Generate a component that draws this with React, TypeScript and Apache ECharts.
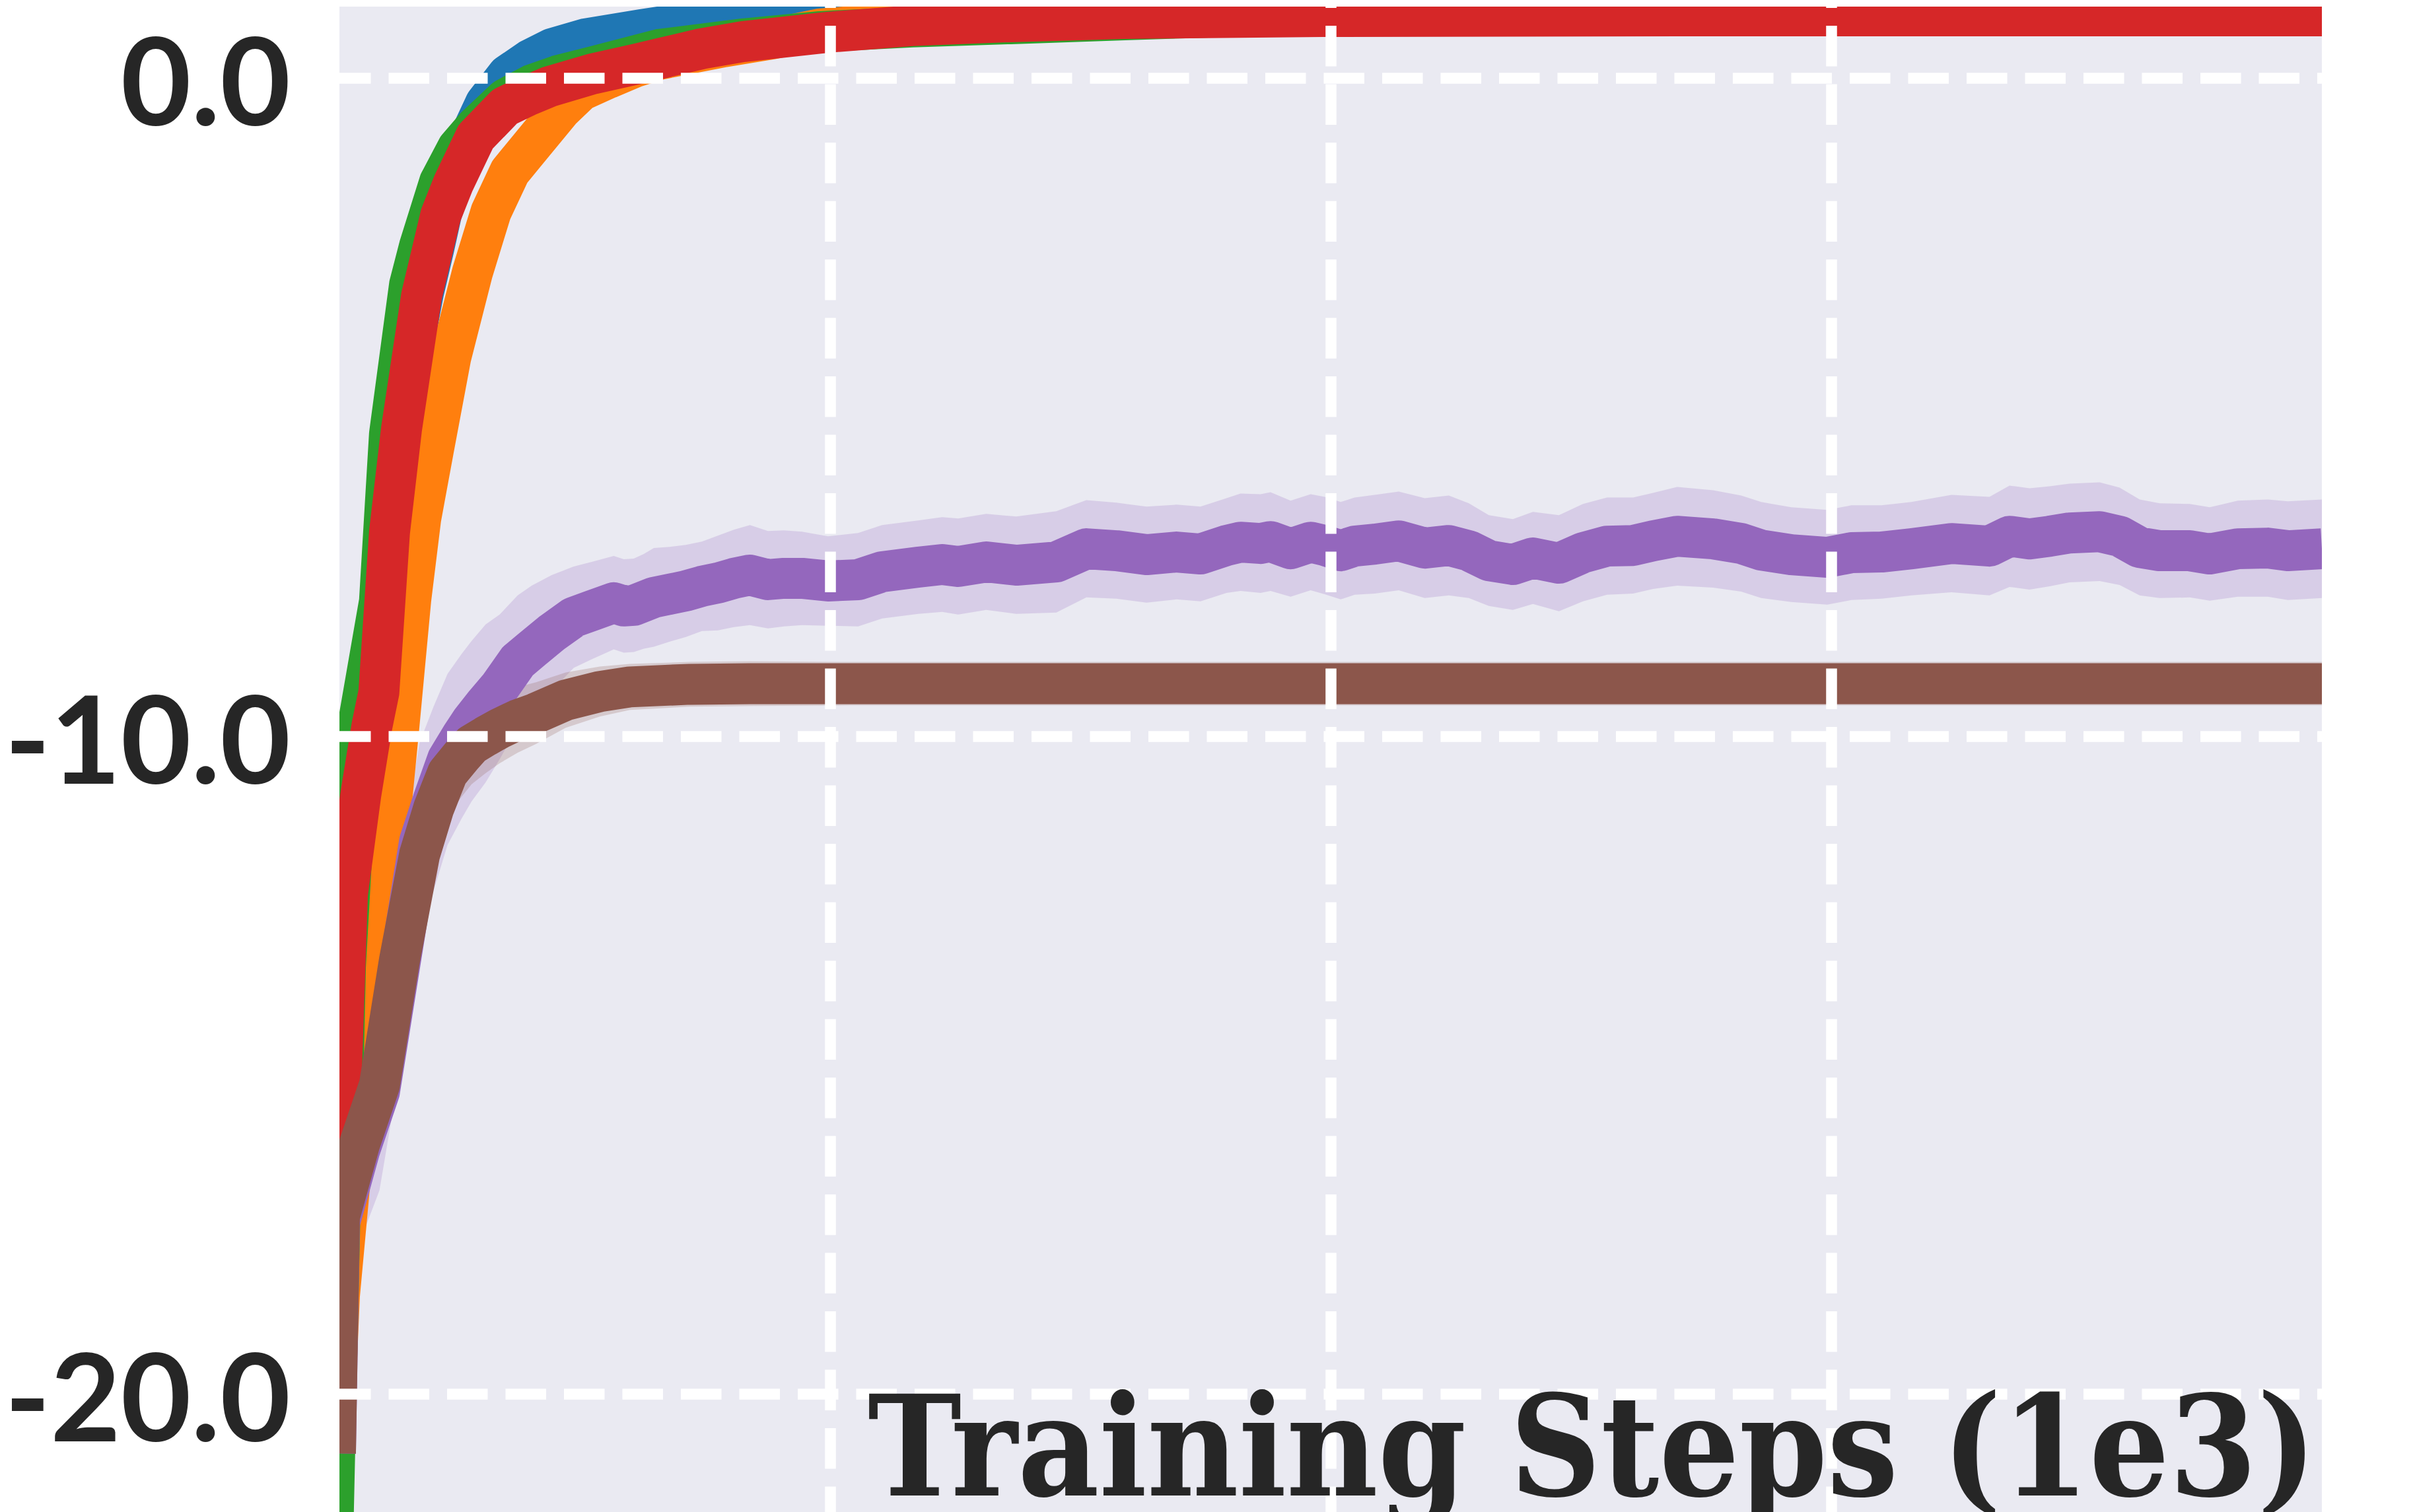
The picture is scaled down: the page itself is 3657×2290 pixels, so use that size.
import React, { useEffect, useRef } from "react";
import * as echarts from "echarts";

// ---------- axis settings ----------
const xAxisMin = 5;
const xAxisMax = 995;
const yAxisMin = -21.79;
const yAxisMax = 1.09;
const yTickValues = [-20, -10, 0];
const xGridValues = [250, 500, 750];
const xAxisTitle = "Training Steps (1e3)";

// ---------- series data (mean curves and std bands) ----------
const blueX = [0, 5, 9, 15, 21, 25, 30, 36, 41, 47, 52, 56, 63, 70, 78, 89, 100, 111, 128, 156, 173, 200, 250, 300, 400, 600, 995];
const blueY = [-22, -17.5, -12.8, -11.2, -10.0, -9.4, -7.0, -5.3, -4.2, -3.25, -2.6, -2.05, -1.45, -0.9, -0.38, 0.05, 0.28, 0.45, 0.6, 0.74, 0.82, 0.92, 1.0, 1.07, 1.15, 1.2, 1.22];
const blueStd = [0.3, 0.3, 0.3, 0.3, 0.3, 0.3, 0.3, 0.3, 0.3, 0.28, 0.26, 0.25, 0.24, 0.22, 0.2, 0.2, 0.2, 0.2, 0.2, 0.2, 0.2, 0.2, 0.2, 0.2, 0.2, 0.2, 0.2];

const orangeX = [0, 5, 15, 25.4, 30.7, 34.7, 40.6, 45.6, 51.9, 60.6, 71.4, 80.7, 90.1, 101.4, 115.5, 125.4, 139.2, 152.4, 165, 197, 221, 245, 300, 400, 600, 995];
const orangeY = [-22, -18.5, -15.2, -11.7, -11.1, -9.85, -7.93, -6.69, -5.65, -4.24, -2.95, -2.03, -1.42, -1.0, -0.48, -0.19, 0.0, 0.17, 0.29, 0.48, 0.6, 0.75, 0.88, 0.98, 1.02, 1.03];
const orangeStd = [0.5, 0.5, 0.5, 0.5, 0.5, 0.5, 0.48, 0.46, 0.44, 0.42, 0.4, 0.38, 0.35, 0.3, 0.26, 0.22, 0.2, 0.18, 0.16, 0.15, 0.15, 0.15, 0.15, 0.15, 0.15, 0.15];

const greenX = [0, 8, 15, 25, 30, 40, 45, 55, 64, 73, 88, 101, 114, 132, 165, 207, 245, 291, 340, 397, 450, 600, 995];
const greenY = [-24.5, -13.5, -9.7, -7.95, -5.41, -3.14, -2.55, -1.58, -1.06, -0.74, -0.31, -0.1, 0.04, 0.18, 0.44, 0.6, 0.71, 0.78, 0.83, 0.89, 0.94, 0.97, 0.98];
const greenStd = [0.5, 0.5, 0.5, 0.5, 0.48, 0.45, 0.45, 0.42, 0.4, 0.38, 0.35, 0.32, 0.3, 0.28, 0.25, 0.22, 0.2, 0.2, 0.2, 0.2, 0.2, 0.2, 0.2];

const redX = [0, 5, 9, 15.6, 21.2, 24.7, 30, 36, 46, 55.6, 62, 73, 87.6, 98.6, 109.5, 131.7, 153.8, 165, 186, 207, 249, 291, 340, 397, 496, 700, 995];
const redY = [-20, -16.0, -12.4, -10.9, -9.85, -9.33, -6.9, -5.33, -3.31, -2.08, -1.59, -0.89, -0.43, -0.27, -0.13, 0.07, 0.22, 0.3, 0.45, 0.56, 0.7, 0.8, 0.86, 0.91, 0.94, 0.95, 0.95];
const redStd = [0.25, 0.25, 0.25, 0.25, 0.25, 0.25, 0.25, 0.25, 0.25, 0.25, 0.25, 0.22, 0.2, 0.2, 0.2, 0.2, 0.2, 0.2, 0.2, 0.2, 0.2, 0.2, 0.2, 0.2, 0.2, 0.2, 0.2];

const purpleX = [3, 5, 15, 25, 35, 45, 52, 59, 66, 71, 78, 85, 94, 101, 111, 122, 131, 142, 147, 152, 157, 162, 170, 178, 186, 194, 202, 210, 219, 227, 236, 249, 264,
  276, 294, 306, 314, 328, 343, 363, 378, 393, 408, 423, 435, 448, 455, 465, 470, 480, 490, 497, 505, 512, 522, 534, 547, 559, 569, 579, 591, 601, 614,
  626, 638, 651, 661, 673, 691, 705, 715, 730, 748, 760, 775, 790, 810, 829, 839, 849, 859, 869, 884, 894, 904, 914, 929, 939, 953, 968, 978, 995];
const purpleY = [-20.9, -17.4, -16.3, -15.4, -13.5, -11.6, -10.95, -10.35, -10.0, -9.77, -9.5, -9.25, -8.86, -8.68, -8.43, -8.19, -8.09, -7.97, -8.02, -8.01, -7.95, -7.89, -7.84, -7.79, -7.72, -7.67, -7.6, -7.55, -7.62, -7.6, -7.6, -7.64, -7.62,
  -7.5, -7.43, -7.39, -7.42, -7.35, -7.4, -7.35, -7.15, -7.18, -7.24, -7.2, -7.23, -7.1, -7.05, -7.07, -7.04, -7.15, -7.05, -7.1, -7.18, -7.11, -7.08, -7.03, -7.14, -7.1, -7.18, -7.33, -7.39, -7.29, -7.37,
  -7.21, -7.11, -7.1, -7.03, -6.96, -7.0, -7.07, -7.17, -7.24, -7.28, -7.21, -7.2, -7.15, -7.07, -7.11, -6.96, -7.0, -6.96, -6.91, -6.89, -6.96, -7.13, -7.18, -7.18, -7.23, -7.15, -7.14, -7.18, -7.15];
const purpleStd = [1.0, 1.2, 1.4, 1.5, 1.6, 1.5, 1.4, 1.3, 1.25, 1.22, 1.2, 1.1, 1.0, 0.97, 0.88, 0.77, 0.74, 0.71, 0.71, 0.71, 0.72, 0.75, 0.72, 0.7, 0.68, 0.72, 0.74, 0.76, 0.74, 0.73, 0.71, 0.68, 0.71,
  0.71, 0.71, 0.72, 0.73, 0.73, 0.74, 0.77, 0.74, 0.73, 0.73, 0.72, 0.72, 0.72, 0.74, 0.75, 0.75, 0.73, 0.73, 0.74, 0.74, 0.74, 0.75, 0.75, 0.76, 0.76, 0.72, 0.69, 0.69, 0.7, 0.73,
  0.74, 0.74, 0.73, 0.73, 0.75, 0.74, 0.73, 0.73, 0.72, 0.72, 0.72, 0.71, 0.71, 0.74, 0.75, 0.77, 0.77, 0.76, 0.75, 0.75, 0.74, 0.73, 0.72, 0.71, 0.71, 0.73, 0.74, 0.75, 0.75];

const brownX = [3, 5, 15, 25, 35, 45, 52, 59, 66, 71, 78, 85, 94, 103, 118, 135, 150, 180, 210, 260, 400, 600, 800, 995];
const brownY = [-20.9, -17.3, -16.2, -15.3, -13.4, -11.8, -11.1, -10.56, -10.3, -10.13, -10.0, -9.88, -9.75, -9.65, -9.45, -9.32, -9.25, -9.21, -9.2, -9.2, -9.2, -9.2, -9.2, -9.2];
const brownStd = [1.2, 1.2, 1.1, 1.0, 0.9, 0.8, 0.72, 0.66, 0.62, 0.6, 0.56, 0.53, 0.5, 0.47, 0.42, 0.38, 0.35, 0.34, 0.34, 0.33, 0.33, 0.33, 0.33, 0.33];

type Curve = { name: string; color: string; x: number[]; y: number[]; std: number[] };

function rgba(hex: string, a: number) {
  const n = parseInt(hex.slice(1), 16);
  return `rgba(${(n >> 16) & 255},${(n >> 8) & 255},${n & 255},${a})`;
}

export default function App() {
  const ref = useRef<HTMLDivElement>(null);

  useEffect(() => {
    if (!ref.current) return;
    const chart = echarts.init(ref.current, null, { renderer: "svg" });

    const curves: Curve[] = [
      { name: "blue", color: "#1f77b4", x: blueX, y: blueY, std: blueStd },
      { name: "orange", color: "#ff7f0e", x: orangeX, y: orangeY, std: orangeStd },
      { name: "green", color: "#2ca02c", x: greenX, y: greenY, std: greenStd },
      { name: "red", color: "#d62728", x: redX, y: redY, std: redStd },
      { name: "purple", color: "#9467bd", x: purpleX, y: purpleY, std: purpleStd },
      { name: "brown", color: "#8c564b", x: brownX, y: brownY, std: brownStd },
    ];

    const series: any[] = [];
    curves.forEach((c) => {
      series.push({
        type: "custom",
        name: c.name + "-band",
        coordinateSystem: "cartesian2d",
        clip: true,
        silent: true,
        data: [[c.x[0], c.y[0]]],
        renderItem: (_params: any, api: any) => {
          const up = c.x.map((x, i) => api.coord([x, c.y[i] + c.std[i]]));
          const lo = c.x.map((x, i) => api.coord([x, c.y[i] - c.std[i]])).reverse();
          return {
            type: "polygon",
            shape: { points: up.concat(lo) },
            style: { fill: rgba(c.color, 0.22), stroke: "none" },
          };
        },
      });
      series.push({
        type: "line",
        name: c.name,
        data: c.x.map((x, i) => [x, c.y[i]]),
        showSymbol: false,
        symbol: "none",
        clip: true,
        silent: true,
        itemStyle: { color: c.color },
        lineStyle: { color: c.color, width: 62, join: "round", cap: "butt" },
      });
    });

    series[series.length - 1].markLine = {
      silent: true,
      symbol: ["none", "none"],
      label: { show: false },
      lineStyle: { color: "#ffffff", width: 16.5, type: [61.5, 27], dashOffset: 13.6, opacity: 1 },
      emphasis: { disabled: true },
      data: [
        ...xGridValues.map((v) => ({ xAxis: v, lineStyle: { color: "#ffffff", width: 16.5, type: [61.5, 27], dashOffset: 22.7 } })),
        ...yTickValues.map((v) => ({ yAxis: v })),
      ],
    };

    chart.setOption({
      animation: false,
      backgroundColor: "#ffffff",
      grid: {
        left: 514,
        right: 141,
        top: 10,
        bottom: 0,
        show: true,
        backgroundColor: "#EAEAF2",
        borderWidth: 0,
        containLabel: false,
        outerBoundsMode: "none",
      },
      xAxis: {
        type: "value",
        min: xAxisMin,
        max: xAxisMax,
        axisLine: { show: false },
        axisTick: { show: false },
        axisLabel: { show: false },
        splitLine: { show: false },
      },
      yAxis: {
        type: "value",
        min: yAxisMin,
        max: yAxisMax,
        axisLine: { show: false },
        axisTick: { show: false },
        splitLine: { show: false },
        axisLabel: {
          customValues: yTickValues,
          formatter: (v: number) => v.toFixed(1),
          fontFamily: "Lato",
          fontWeight: "bold",
          fontSize: 184,
          color: "#262626",
          margin: 74,
        },
      },
      graphic: [
        { type: "rect", z: 50, silent: true, shape: { x: 0, y: 0, width: 3657, height: 10 }, style: { fill: "#ffffff" } },
        { type: "rect", z: 50, silent: true, shape: { x: 462, y: 0, width: 52, height: 2290 }, style: { fill: "#ffffff" } },
        { type: "rect", z: 50, silent: true, shape: { x: 3516, y: 0, width: 141, height: 2290 }, style: { fill: "#ffffff" } },
        {
          type: "text",
          z: 100,
          silent: true,
          x: 3508,
          y: 2190,
          style: {
            text: xAxisTitle,
            fontFamily: "DejaVu Serif Condensed",
            fontWeight: "bold",
            fontSize: 212,
            fill: "#262626",
            align: "right",
            verticalAlign: "middle",
          },
        },
      ],
      series,
    });

    return () => chart.dispose();
  }, []);

  return <div ref={ref} style={{ position: "fixed", left: 0, top: 0, width: 3657, height: 2290 }} />;
}
